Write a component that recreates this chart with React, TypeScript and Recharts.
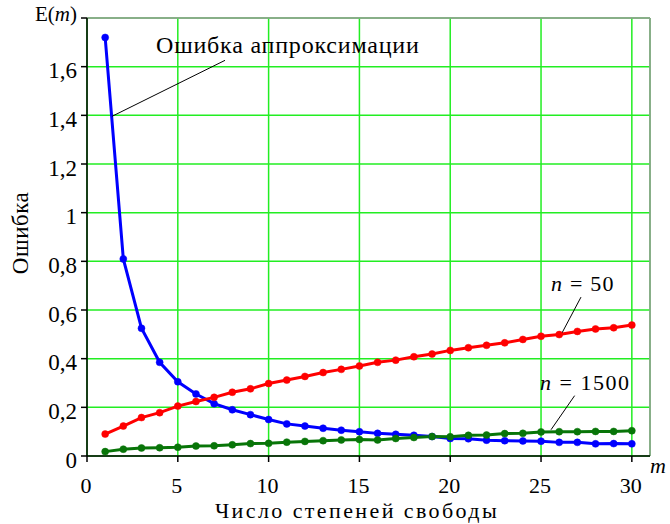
import { LineChart, Line, XAxis, YAxis, CartesianGrid, ReferenceLine } from "recharts"

// число степеней свободы m
const degrees = [1, 2, 3, 4, 5, 6, 7, 8, 9, 10, 11, 12, 13, 14, 15, 16, 17, 18, 19, 20, 21, 22, 23, 24, 25, 26, 27, 28, 29, 30]

// ошибка аппроксимации E(m)
const approxError = [1.72, 0.81, 0.525, 0.385, 0.305, 0.255, 0.215, 0.19, 0.17, 0.15, 0.132, 0.123, 0.114, 0.106, 0.1, 0.093, 0.089, 0.085, 0.08, 0.072, 0.071, 0.065, 0.063, 0.062, 0.061, 0.056, 0.056, 0.05, 0.051, 0.05]
// n = 50
const errorN50 = [0.09, 0.123, 0.158, 0.178, 0.205, 0.224, 0.241, 0.262, 0.276, 0.298, 0.312, 0.327, 0.343, 0.356, 0.37, 0.385, 0.394, 0.408, 0.419, 0.434, 0.445, 0.455, 0.465, 0.479, 0.492, 0.499, 0.512, 0.522, 0.527, 0.538]
// n = 1500
const errorN1500 = [0.018, 0.028, 0.033, 0.034, 0.036, 0.041, 0.042, 0.046, 0.051, 0.052, 0.057, 0.06, 0.063, 0.066, 0.068, 0.066, 0.072, 0.076, 0.08, 0.079, 0.085, 0.086, 0.092, 0.093, 0.099, 0.1, 0.1, 0.101, 0.101, 0.104]

const xTicks = [0, 5, 10, 15, 20, 25, 30]
const yTicks = [0, 0.2, 0.4, 0.6, 0.8, 1, 1.2, 1.4, 1.6, 1.8]

const data = degrees.map((m, i) => ({
  m,
  approx: approxError[i],
  n50: errorN50[i],
  n1500: errorN1500[i],
}))

const FONT = "Liberation Serif, DejaVu Serif, serif"
const GRID = "#22ee22"

const YTick = (props: any) => {
  const { x, y, payload } = props
  if (payload.value === 1.8) {
    // верхняя метка оси — подпись E(m)
    return (
      <text x={x} y={y} dy={3} textAnchor="end" style={{ fontFamily: FONT, fontSize: 21 }} fill="#000">
        E(<tspan fontStyle="italic">m</tspan>)
      </text>
    )
  }
  return (
    <text x={x} y={y} dy="0.5em" textAnchor="end" style={{ fontFamily: FONT, fontSize: 23 }} fill="#000">
      {String(payload.value).replace(".", ",")}
    </text>
  )
}

const XTick = (props: any) => {
  const { x, y, payload } = props
  return (
    <text x={x - 1} y={y} dy="0.71em" textAnchor="middle" style={{ fontFamily: FONT, fontSize: 22 }} fill="#000">
      {payload.value}
    </text>
  )
}

const label = (extra: any) => ({
  position: "absolute" as const,
  fontFamily: FONT,
  color: "#000",
  whiteSpace: "nowrap" as const,
  lineHeight: 1,
  ...extra,
})

export default function App() {
  return (
    <div style={{ position: "absolute", left: 0, top: 0, width: 670, height: 524, background: "#fff", overflow: "hidden" }}>
      <LineChart width={670} height={524} data={data} margin={{ top: 18, right: 20, bottom: 38, left: 40 }}>
        <CartesianGrid stroke={GRID} strokeWidth={1.5} />
        <XAxis
          dataKey="m"
          type="number"
          domain={[0, 31]}
          ticks={xTicks}
          allowDataOverflow
          height={30}
          axisLine={{ stroke: "#000", strokeWidth: 1.5 }}
          tickLine={{ stroke: "#000", strokeWidth: 1.5 }}
          tickSize={6}
          tickMargin={15}
          tick={<XTick />}
        />
        <YAxis
          type="number"
          domain={[0, 1.8]}
          ticks={yTicks}
          allowDataOverflow
          width={47}
          axisLine={{ stroke: "#000", strokeWidth: 1.5 }}
          tickLine={{ stroke: "#000", strokeWidth: 1.5 }}
          tickSize={6}
          tickMargin={4}
          tick={<YTick />}
        />
        <ReferenceLine y={1.8} stroke="#999" strokeWidth={1.5} />
        <ReferenceLine x={31} stroke="#999" strokeWidth={1.5} />
        <Line dataKey="approx" stroke="#0000ff" strokeWidth={3} dot={{ r: 3.5, fill: "#0000ff", stroke: "#0000ff", strokeWidth: 0.5 }} isAnimationActive={false} />
        <Line dataKey="n50" stroke="#ff0000" strokeWidth={3} dot={{ r: 3.5, fill: "#ff0000", stroke: "#ff0000", strokeWidth: 0.5 }} isAnimationActive={false} />
        <Line dataKey="n1500" stroke="#087508" strokeWidth={3} dot={{ r: 3.5, fill: "#087508", stroke: "#087508", strokeWidth: 0.5 }} isAnimationActive={false} />
        {/* выноски */}
        <ReferenceLine segment={[{ x: 7.6, y: 1.626 }, { x: 1.38, y: 1.396 }]} stroke="#000" strokeWidth={1} />
        <ReferenceLine segment={[{ x: 27.2, y: 0.653 }, { x: 26.15, y: 0.505 }]} stroke="#000" strokeWidth={1} />
        <ReferenceLine segment={[{ x: 26.85, y: 0.248 }, { x: 25.55, y: 0.108 }]} stroke="#000" strokeWidth={1} />
      </LineChart>

      <div style={label({ left: 156, top: 33, fontSize: 24, letterSpacing: 0.8 })}>Ошибка аппроксимации</div>
      <div style={label({ left: 551, top: 273, fontSize: 22, letterSpacing: 1.2 })}>
        <i>n</i> = 50
      </div>
      <div style={label({ left: 540, top: 372, fontSize: 22, letterSpacing: 1.5 })}>
        <i>n</i> = 1500
      </div>
      <div style={label({ left: 650, top: 455, fontSize: 22 })}>
        <i>m</i>
      </div>
      <div style={label({ left: 357, top: 500, fontSize: 22, letterSpacing: 2.4, transform: "translateX(-50%)" })}>
        Число степеней свободы
      </div>
      <div
        style={label({
          left: 20,
          top: 233,
          fontSize: 23,
          letterSpacing: 0.5,
          transform: "translate(-50%, -50%) rotate(-90deg)",
        })}
      >
        Ошибка
      </div>
    </div>
  )
}
